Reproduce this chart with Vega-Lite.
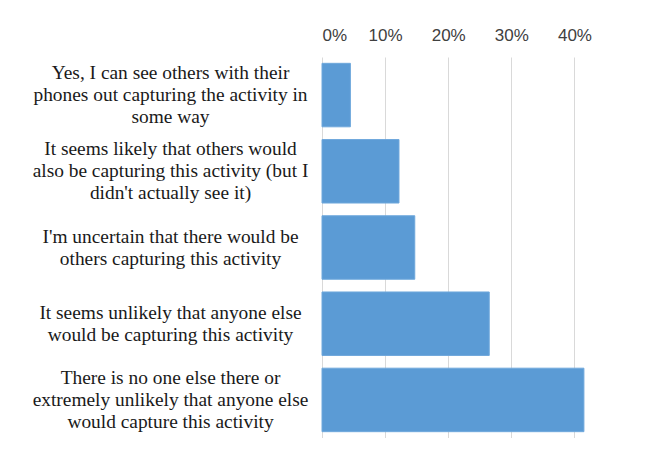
{
  "$schema": "https://vega.github.io/schema/vega-lite/v6.json",
  "autosize": {"type": "none"},
  "padding": {"left": 322, "top": 57, "right": 0, "bottom": 0},
  "width": 284,
  "height": 381,
  "background": "white",
  "data": {
    "values": [
      {"label": "Yes, I can see others with their|phones out capturing the activity in|some way", "share": 0.045},
      {"label": "It seems likely that others  would|also be capturing this activity (but I|didn't actually see it)", "share": 0.122},
      {"label": "I'm uncertain that there would be|others capturing this activity", "share": 0.147},
      {"label": "It seems unlikely that anyone else|would be capturing this activity", "share": 0.265},
      {"label": "There is no one else there or|extremely unlikely that anyone else|would capture this activity", "share": 0.415}
    ]
  },
  "mark": {"type": "bar", "color": "#5B9BD5", "stroke": "#6FA8DC", "strokeWidth": 1},
  "encoding": {
    "y": {
      "field": "label",
      "type": "nominal",
      "sort": null,
      "scale": {"paddingInner": 0.167, "paddingOuter": 0.083},
      "axis": {
        "title": null,
        "orient": "left",
        "ticks": false,
        "domain": false,
        "grid": false,
        "labelExpr": "split(datum.value, '|')",
        "labelAlign": "center",
        "labelBaseline": "middle",
        "labelOffset": {"condition": {"test": "length(split(datum.value, '|')) == 3", "value": -22}, "value": -11},
        "labelPadding": 152,
        "labelLineHeight": 22,
        "labelFont": "Liberation Serif",
        "labelFontSize": 19.4,
        "labelColor": "#1a1a1a",
        "labelLimit": 0
      }
    },
    "x": {
      "field": "share",
      "type": "quantitative",
      "scale": {"domain": [0, 0.45], "nice": false},
      "axis": {
        "title": null,
        "orient": "top",
        "values": [0, 0.1, 0.2, 0.3, 0.4],
        "format": ".0%",
        "ticks": false,
        "domain": false,
        "grid": true,
        "gridColor": "#d9d9d9",
        "gridWidth": 1,
        "labelPadding": 13,
        "labelFont": "Liberation Sans",
        "labelFontSize": 17,
        "labelColor": "#404040"
      }
    }
  },
  "config": {"view": {"stroke": null}}
}
